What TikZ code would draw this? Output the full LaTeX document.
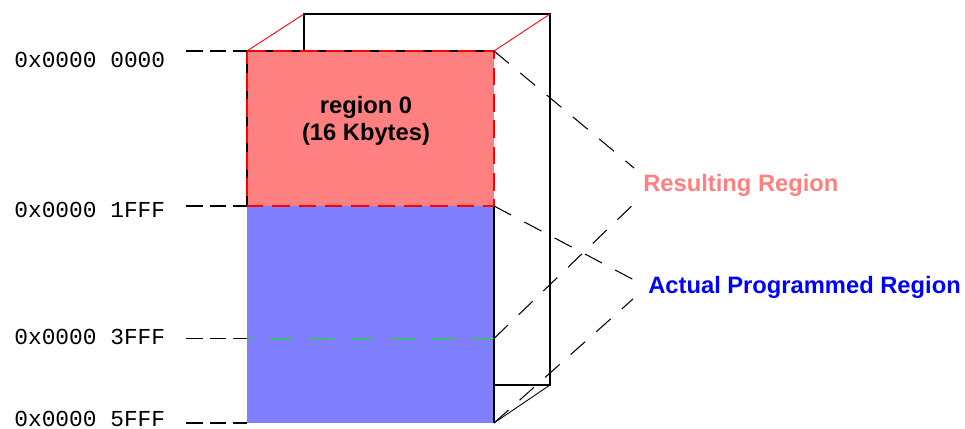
\documentclass[tikz,border=0pt]{standalone}
\usepackage{fontspec}
\setmainfont{Liberation Sans}
\setmonofont{Liberation Mono}
\usepackage{xcolor}
\usetikzlibrary{arrows.meta, positioning, calc}

\definecolor{regred}{HTML}{FF8080}
\definecolor{regblue}{HTML}{8080FF}
\definecolor{reggreen}{HTML}{00F000}

\begin{document}
\begin{tikzpicture}[line join=miter, scale=1.0,
    addr/.style={font=\ttfamily\fontsize{13}{15}\selectfont, anchor=east, inner sep=0pt},
    tick/.style={black, line width=1pt, dash pattern=on 9.5pt off 4pt},
    guide/.style={black, line width=0.6pt, dash pattern=on 11pt off 8.5pt},
    tag/.style={font=\bfseries\fontsize{13.5}{15.4}\selectfont, anchor=west, inner sep=0pt}]

    \useasboundingbox (0,0) rectangle (19.3,8.58);

    % Corners of the front face
    \coordinate (f0) at (4.94,7.56);
    \coordinate (f1) at (9.88,7.56);
    \coordinate (m0) at (4.94,4.46);
    \coordinate (m1) at (9.88,4.46);
    \coordinate (g0) at (4.94,1.81);
    \coordinate (g1) at (9.88,1.81);
    \coordinate (b0) at (4.94,0.12);
    \coordinate (b1) at (9.88,0.12);

    % Corners of the back face
    \coordinate (k0) at (6.08,8.30);
    \coordinate (k1) at (11.0,8.30);
    \coordinate (k2) at (11.0,0.88);
    \coordinate (k3) at (9.88,0.88);

    % Fills
    \fill[regblue] (m0) rectangle (b1);
    \fill[regred] (f0) rectangle (m1);

    % Box outline
    \draw[line width=0.9pt] (k3) -- (k2) -- (k1) -- (k0) -- (6.08,7.56);
    \draw[line width=0.8pt] (m0) -- (f0) -- (f1);
    \draw[line width=0.8pt] (m1) -- (b1);
    \draw[line width=0.5pt] (b1) -- (k2);
    \draw[red, line width=0.5pt] (f0) -- (k0);
    \draw[red, line width=0.5pt] (f1) -- (k1);

    % Region 0 outline
    \draw[red, line width=1.2pt, dash pattern=on 10pt off 5pt] (f0) -- (f1) -- (m1) -- (m0) -- cycle;
    \draw[reggreen, line width=1pt, dash pattern=on 13.5pt off 9.5pt, dash phase=10pt] (g0) -- (g1);

    \node[font=\bfseries\fontsize{13.5}{15.4}\selectfont, align=center] (reg0) at (7.32,6.17) {region 0\\(16 Kbytes)};

    % Addresses
    \foreach \name/\y/\txt/\c in {
        a0/7.38/0x0000 0000/f0,
        a1/4.38/0x0000 1FFF/m0,
        a2/1.84/0x0000 3FFF/g0,
        a3/0.20/0x0000 5FFF/b0%
    }{
        \node[addr] (\name) at (3.31,\y) {\txt};
        \draw[tick] ([xshift=0.41cm]\name.east |- \c) -- (\c);
    }

    % Legend
    \node[tag, text=regred] (res) at (12.86,4.88) {Resulting Region};
    \node[tag, text=blue] (act) at (12.96,2.84) {Actual Programmed Region};

    \coordinate (resA) at (12.68,5.22);
    \coordinate (resB) at (12.80,4.62);
    \coordinate (actA) at (12.72,2.96);
    \coordinate (actB) at (12.66,2.60);

    \draw[guide] (f1) -- (resA);
    \draw[guide] (g1) -- (resB);
    \draw[guide] (m1) -- (actA);
    \draw[guide] (b1) -- (actB);

\end{tikzpicture}
\end{document}
